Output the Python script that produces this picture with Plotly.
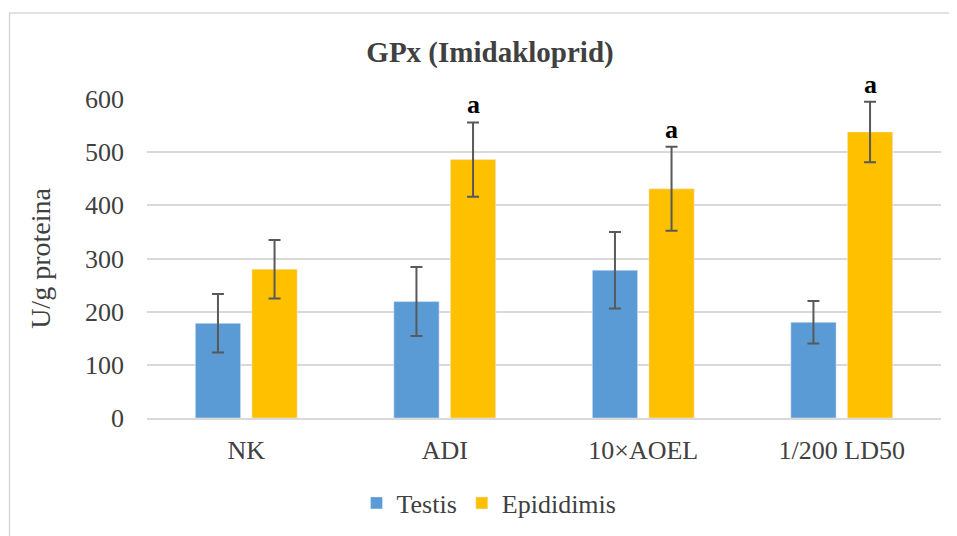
import plotly.graph_objects as go

categories = ["NK", "ADI", "10×AOEL", "1/200 LD50"]
testis = [178, 219, 278, 180]
testis_err = [55, 65, 72, 40]
epididimis = [280, 486, 431, 538]
epididimis_err = [55, 70, 79, 57]
sig_labels = ["", "a", "a", "a"]
y_ticks = [0, 100, 200, 300, 400, 500, 600]

W, H = 957, 536
OFF = 8  # page body margin offset
ML, MT = 147 - OFF, 99 - OFF
MR = W - (941 - OFF)
MB = H - (418 - OFF)
PW, PH = W - ML - MR, H - MT - MB

FONT = "Liberation Serif"
TXT = "#404040"
ERR = "#595959"

fig = go.Figure()
fig.add_trace(go.Bar(
    name="Testis", x=categories, y=testis, marker_color="#5B9BD5",
    error_y=dict(type="data", array=testis_err, color=ERR, thickness=2, width=6),
))
fig.add_trace(go.Bar(
    name="Epididimis", x=categories, y=epididimis, marker_color="#FFC000",
    error_y=dict(type="data", array=epididimis_err, color=ERR, thickness=2, width=6),
))

# significance letters above Epididimis error bars
cat_px = PW / len(categories)
bargap = 0.43
slot = cat_px * (1 - bargap) / 2
for c, v, e, s in zip(categories, epididimis, epididimis_err, sig_labels):
    if s:
        fig.add_annotation(x=c, y=v + e, text="<b>" + s + "</b>", showarrow=False, xref="x", yref="y",
                           xshift=slot / 2, yanchor="bottom", yshift=1,
                           font=dict(family=FONT, size=26, color="#000000"))

# outer chart border (extends off the right/bottom edges)
fig.add_shape(type="rect", xref="paper", yref="paper",
              x0=(9.5 - OFF - ML) / PW, x1=(W + 5 - ML) / PW,
              y0=(H - MB - (H + 5)) / PH, y1=(H - MB - (13 - OFF)) / PH,
              line=dict(color="#D9D9D9", width=1.5), fillcolor="rgba(0,0,0,0)", layer="below")

fig.update_layout(
    width=W, height=H,
    margin=dict(l=ML, r=MR, t=MT, b=MB, autoexpand=False),
    paper_bgcolor="white", plot_bgcolor="white",
    barmode="group", bargap=bargap, bargroupgap=0.2,
    font=dict(family=FONT, size=26, color=TXT),
    title=dict(text="<b>GPx (Imidakloprid)</b>", x=(490 - OFF) / W, xref="container", xanchor="center",
               y=1 - (52 - OFF) / H, yref="container", yanchor="middle",
               font=dict(family=FONT, size=29, color=TXT)),
    showlegend=True,
    legend=dict(orientation="h", x=(489 - OFF - ML) / PW, xanchor="center",
                y=(H - MB - (503 - OFF)) / PH, yanchor="middle",
                font=dict(family=FONT, size=26, color=TXT),
                traceorder="normal"),
    xaxis=dict(type="category", showgrid=False, showline=True, linecolor="#D9D9D9", linewidth=1.5,
               ticks="", tickfont=dict(family=FONT, size=26, color=TXT), ticklabelstandoff=8),
    yaxis=dict(range=[0, 600], tickvals=y_ticks, showgrid=True, gridcolor="#D9D9D9", gridwidth=1.5,
               zeroline=False, showline=False, ticks="",
               tickfont=dict(family=FONT, size=26, color=TXT), ticklabelstandoff=22,
               title=dict(text="U/g proteina", font=dict(family=FONT, size=28, color=TXT), standoff=26)),
)
fig.update_traces(cliponaxis=False)

fig.write_html("out.html")
